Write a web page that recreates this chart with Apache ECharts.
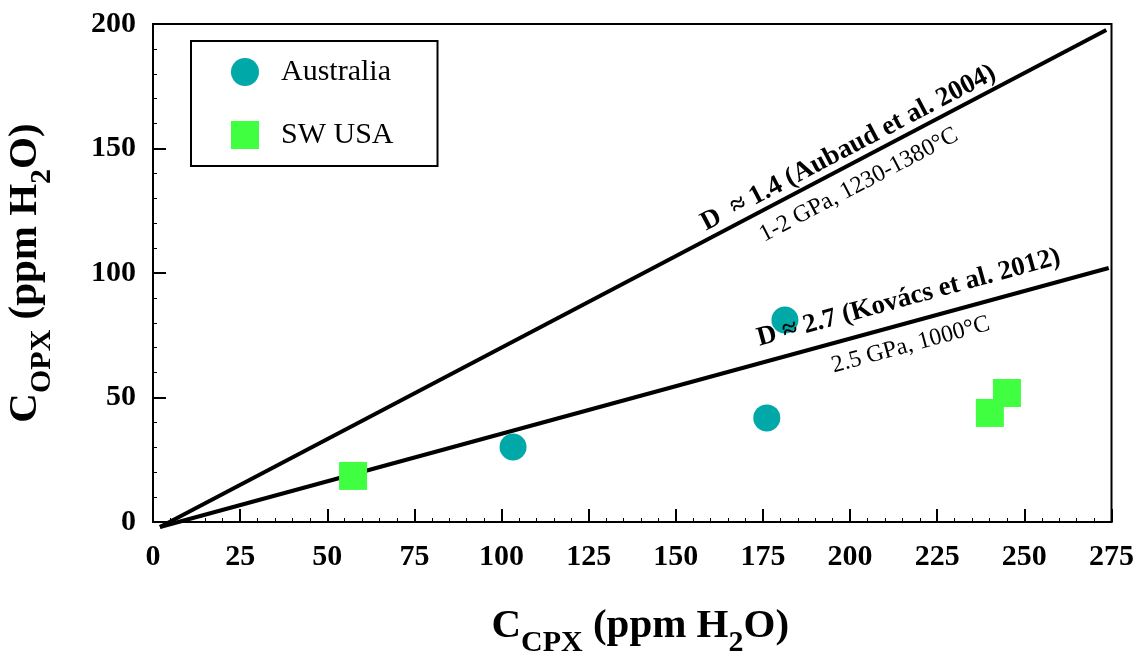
<!DOCTYPE html>
<html>
<head>
<meta charset="utf-8">
<script src="https://cdn.jsdelivr.net/npm/echarts@6/dist/echarts.min.js"></script>
<style>html,body{margin:0;padding:0;background:#fff}#c{width:1143px;height:658px}</style>
</head>
<body>
<div id="c"></div>
<script>
// ---- data ----
const australia = [[103.3, 30.1], [176.1, 41.8], [181.3, 81.1]];
const swUSA = [[57.4, 18.5], [240.1, 43.8], [245.0, 51.8]];
const lineAubaud = [[2, -2], [273.5, 197.6]];
const lineKovacs = [[2, -2], [274.2, 102.0]];
const xTicks = { min: 0, max: 275, interval: 25 };
const yTicks = { min: 0, max: 200, interval: 50 };
const annotations = [
  { text: 'D  ≈ 1.4 (Aubaud et al. 2004)', at: [199.5, 150.2], line: 'aub', bold: true },
  { text: '1-2 GPa, 1230-1380°C', at: [202.5, 135.3], line: 'aub', bold: false },
  { text: 'D ≈ 2.7 (Kovács et al. 2012)', at: [216.8, 90.0], line: 'kov', bold: true },
  { text: '2.5 GPa, 1000°C', at: [217.4, 71.1], line: 'kov', bold: false }
];

const FONT = "'Liberation Serif', 'Times New Roman', serif";
const chart = echarts.init(document.getElementById('c'));

const nameRich = {
  m: { fontFamily: FONT, fontWeight: 'bold', fontSize: 41, color: '#000', verticalAlign: 'top' },
  s: { fontFamily: FONT, fontWeight: 'bold', fontSize: 30, color: '#000', verticalAlign: 'top', padding: [22, 0, 0, 0] }
};

const axisCommon = {
  axisLine: { show: true, onZero: false, lineStyle: { color: '#000', width: 2 } },
  axisTick: { show: true, inside: true, length: 13, lineStyle: { color: '#000', width: 2 } },
  minorTick: { show: true, splitNumber: 5, length: 4, lineStyle: { color: '#000', width: 1 } },
  splitLine: { show: false },
  axisLabel: { fontFamily: FONT, fontWeight: 'bold', fontSize: 30, color: '#000' },
  nameLocation: 'middle'
};

chart.setOption({
  animation: false,
  backgroundColor: '#fff',
  grid: { left: 153, right: 31.5, top: 24, bottom: 136, show: true, borderColor: '#000', borderWidth: 2,
          containLabel: false, outerBoundsMode: 'none' },
  xAxis: Object.assign({}, axisCommon, {
    type: 'value', min: xTicks.min, max: xTicks.max, interval: xTicks.interval,
    axisLabel: Object.assign({}, axisCommon.axisLabel, { margin: 20 }),
    name: '{m|C}{s|CPX}{m| (ppm H}{s|2}{m|O)}', nameGap: 84,
    nameTextStyle: { rich: nameRich, padding: [0, 0, 0, 16] }
  }),
  yAxis: Object.assign({}, axisCommon, {
    type: 'value', min: yTicks.min, max: yTicks.max, interval: yTicks.interval,
    axisLabel: Object.assign({}, axisCommon.axisLabel, { margin: 17 }),
    name: '{m|C}{s|OPX}{m| (ppm H}{s|2}{m|O)}', nameGap: 96, nameRotate: 90,
    nameTextStyle: { rich: nameRich }
  }),
  legend: {
    left: 191, top: 41, orient: 'vertical',
    borderColor: '#000', borderWidth: 2, borderRadius: 0,
    padding: [16, 44, 16, 40], itemGap: 33, itemWidth: 28, itemHeight: 28,
    textStyle: { fontFamily: FONT, fontSize: 30, color: '#000', padding: [0, 0, 0, 17] },
    data: ['Australia', 'SW USA']
  },
  series: [
    { name: 'aub', type: 'line', data: lineAubaud, symbol: 'none', clip: false,
      lineStyle: { color: '#000', width: 4 }, silent: true, z: 2 },
    { name: 'kov', type: 'line', data: lineKovacs, symbol: 'none', clip: false,
      lineStyle: { color: '#000', width: 4 }, silent: true, z: 2 },
    { name: 'Australia', type: 'scatter', data: australia, symbol: 'circle', symbolSize: 27,
      itemStyle: { color: '#00A8A8', opacity: 1 }, z: 3 },
    { name: 'SW USA', type: 'scatter', data: swUSA, symbol: 'rect', symbolSize: 28,
      itemStyle: { color: '#40FF40', opacity: 1 }, z: 3 }
  ]
});

function angleOf(pts) {
  const a = chart.convertToPixel({ gridIndex: 0 }, pts[0]);
  const b = chart.convertToPixel({ gridIndex: 0 }, pts[1]);
  return Math.atan2(-(b[1] - a[1]), b[0] - a[0]);
}
const angles = { aub: angleOf(lineAubaud), kov: angleOf(lineKovacs) };
chart.setOption({
  graphic: annotations.map(function (an) {
    const p = chart.convertToPixel({ gridIndex: 0 }, an.at);
    return {
      type: 'text', x: p[0], y: p[1], rotation: angles[an.line], z: 10,
      style: {
        text: an.text, fill: '#000', fontFamily: FONT,
        fontWeight: an.bold ? 'bold' : 'normal', fontSize: an.bold ? 27 : 24,
        align: 'center', verticalAlign: 'middle'
      }
    };
  })
});
</script>
</body>
</html>
